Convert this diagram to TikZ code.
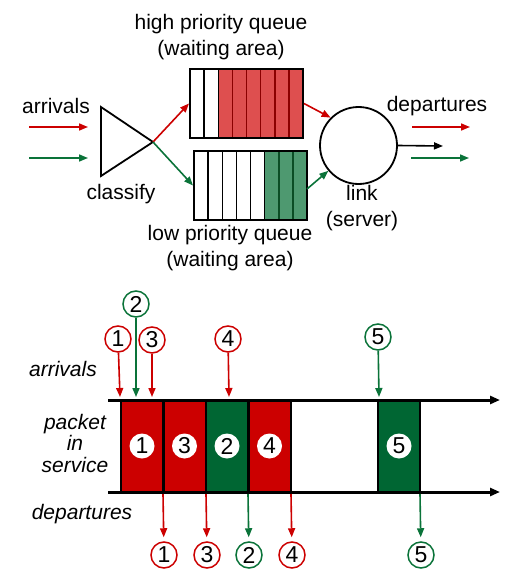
\documentclass[tikz,border=0pt]{standalone}
\usepackage{fontspec}
\setmainfont{Liberation Sans}
\usetikzlibrary{arrows.meta}
\definecolor{ared}{HTML}{CC0000}
\definecolor{agreen}{HTML}{0A7339}
\definecolor{qred}{HTML}{DE4F4F}
\definecolor{qredd}{HTML}{8B0000}
\definecolor{qgreen}{HTML}{4E9970}
\definecolor{qgreend}{HTML}{0B4D25}
\definecolor{pgreen}{HTML}{006633}
\begin{document}
\begin{tikzpicture}[x=1pt,y=-1pt,
  font=\fontsize{21}{26}\selectfont,
  arr/.style={-{Triangle[length=9pt,width=7pt]}, line width=1.6pt},
  txt/.style={inner sep=0pt, align=center},
  itxt/.style={inner sep=0pt, align=center, font=\fontsize{21}{21.5}\selectfont\itshape},
  qframe/.style={draw, line width=2pt, minimum width=113pt, minimum height=69pt, inner sep=0pt},
  pbox/.style={draw, line width=2pt, minimum width=42pt, minimum height=92pt, inner sep=0pt},
  plab/.style={fill=white, circle, minimum size=25pt, inner sep=0pt, font=\fontsize{23}{26}\selectfont},
  rlab/.style={draw=ared, fill=white, circle, line width=1.5pt, minimum size=26pt, inner sep=0pt, font=\fontsize{23}{26}\selectfont},
  glab/.style={draw=agreen, fill=white, circle, line width=1.5pt, minimum size=26pt, inner sep=0pt, font=\fontsize{23}{26}\selectfont},
  tline/.style={line width=3pt, -{Triangle[length=10pt,width=8pt]}}
]
\useasboundingbox (0,0) rectangle (517,583);

% ---------- top part ----------
\node[txt] (arrl) at (56,106) {arrivals};
\coordinate (ar1s) at (29,127); \coordinate (ar1e) at (88,127);
\coordinate (ag1s) at (29,158); \coordinate (ag1e) at (88,158);
\draw[arr, ared] (ar1s) -- (ar1e);
\draw[arr, agreen] (ag1s) -- (ag1e);

\coordinate (tl) at (101,107); \coordinate (bl) at (101,176); \coordinate (tip) at (153,142);
\draw[line width=1.8pt, line join=miter] (tl) -- (bl) -- (tip) -- cycle;
\node[txt] (cls) at (121,194) {classify};

% high priority queue
\fill[qred] (218.25,69) rectangle (303,138);
\foreach \i in {1,2} \draw[line width=1.5pt] (190+\i*14.125,69) -- (190+\i*14.125,138);
\foreach \i in {3,...,7} \draw[line width=1.5pt, qredd] (190+\i*14.125,69) -- (190+\i*14.125,138);
\node[qframe] (hq) at (246.5,103.5) {};
\node[txt] (hql) at (221,37) {high priority queue\\(waiting area)};

% low priority queue
\fill[qgreen] (264.625,151) rectangle (307,220);
\foreach \i in {1,...,5} \draw[line width=1.5pt] (194+\i*14.125,151) -- (194+\i*14.125,220);
\foreach \i in {6,7} \draw[line width=1.5pt, qgreend] (194+\i*14.125,151) -- (194+\i*14.125,220);
\node[qframe] (lq) at (250.5,185.5) {};
\node[txt] (lql) at (230,248) {low priority queue\\(waiting area)};

\draw[arr, ared] (tip) -- (hq.west);
\draw[arr, agreen] (tip) -- (lq.west);

% link
\node[draw, circle, line width=1.8pt, minimum size=77pt, inner sep=0pt] (link) at (358.5,145.5) {};
\node[txt] (linkl) at (362,208) {link\\(server)};
\coordinate (lqout) at (307,189);
\draw[arr, ared] (hq.east) -- (link.135);
\draw[arr, agreen] (lqout) -- (link.220);
\coordinate (bo) at (443,146);
\draw[arr] (link.east) -- (bo);

\node[txt] (depl) at (437,106) {departures};
\coordinate (dr1s) at (412,127); \coordinate (dr1e) at (470,127);
\coordinate (dg1s) at (411,158); \coordinate (dg1e) at (469,158);
\draw[arr, ared] (dr1s) -- (dr1e);
\draw[arr, agreen] (dg1s) -- (dg1e);

% ---------- bottom part ----------
\node[itxt] (barr) at (63,369) {arrivals};
\node[itxt] (bsrv) at (75,443) {packet\\in\\service};
\node[itxt] (bdep) at (82,514) {departures};

% packets
\node[pbox, fill=ared] (p1) at (142,446) {};
\node[pbox, fill=ared] (p3) at (184.5,446) {};
\node[pbox, fill=pgreen] (p2) at (227,446) {};
\node[pbox, fill=ared] (p4) at (269.5,446) {};
\node[pbox, fill=pgreen] (p5) at (399,446) {};
\node[plab] (p1l) at (p1) {1};
\node[plab] (p3l) at (p3) {3};
\node[plab] (p2l) at (p2) {2};
\node[plab] (p4l) at (p4) {4};
\node[plab] (p5l) at (p5) {5};

% timelines
\coordinate (t1s) at (108,400); \coordinate (t1e) at (500,400);
\coordinate (t2s) at (108,492); \coordinate (t2e) at (500,492);
\draw[tline] (t1s) -- (t1e);
\draw[tline] (t2s) -- (t2e);

% arrivals
\node[rlab] (a1) at (118,339) {1};
\node[glab] (a2) at (136,304) {2};
\node[rlab] (a3) at (152,340) {3};
\node[rlab] (a4) at (228,339) {4};
\node[glab] (a5) at (378,337) {5};
\coordinate (e1) at (120,397); \coordinate (e2) at (136,397); \coordinate (e3) at (152,397);
\coordinate (e4) at (229,397); \coordinate (e5) at (379,397);
\draw[arr, ared] (a1) -- (e1);
\draw[arr, agreen] (a2) -- (e2);
\draw[arr, ared] (a3) -- (e3);
\draw[arr, ared] (a4) -- (e4);
\draw[arr, agreen] (a5) -- (e5);

% departures
\node[rlab] (d1) at (164,555) {1};
\node[rlab] (d3) at (207,555) {3};
\node[glab] (d2) at (249,555) {2};
\node[rlab] (d4) at (292,555) {4};
\node[glab] (d5) at (421,555) {5};
\coordinate (s1) at (163,494); \coordinate (s3) at (206,494); \coordinate (s2) at (248,494);
\coordinate (s4) at (291,494); \coordinate (s5) at (420,494);
\draw[arr, ared, shorten >=4pt] (s1) -- (d1);
\draw[arr, ared, shorten >=4pt] (s3) -- (d3);
\draw[arr, agreen, shorten >=4pt] (s2) -- (d2);
\draw[arr, ared, shorten >=4pt] (s4) -- (d4);
\draw[arr, agreen, shorten >=4pt] (s5) -- (d5);
\end{tikzpicture}
\end{document}
